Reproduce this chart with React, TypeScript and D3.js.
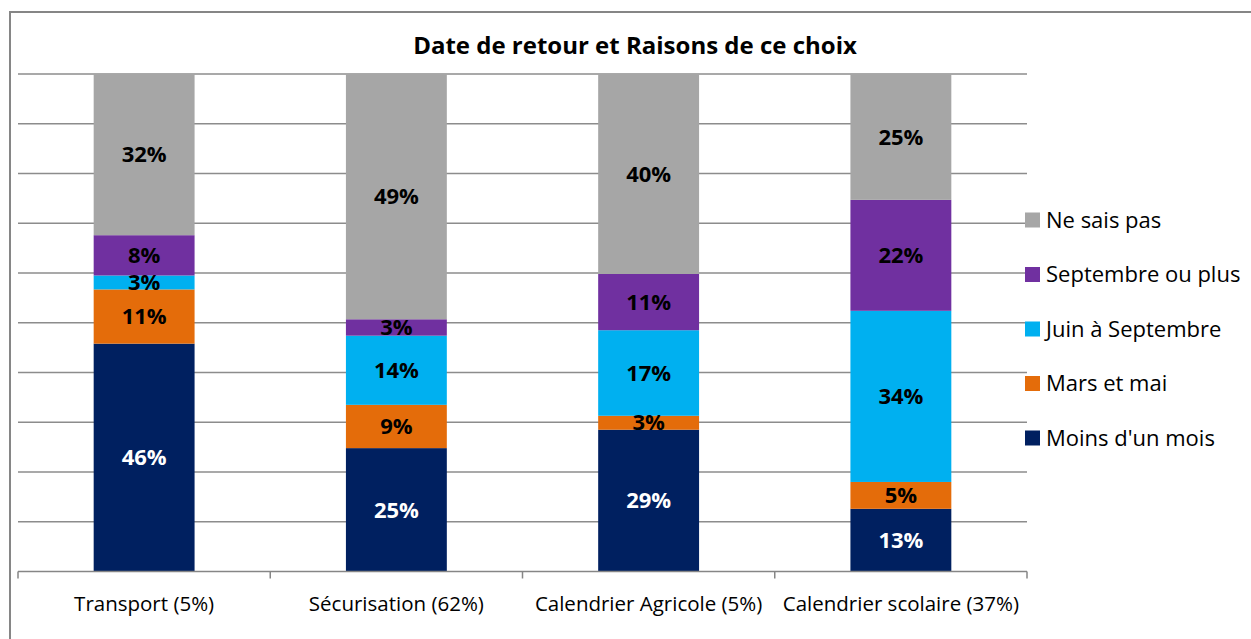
import React, { useEffect, useRef } from 'react'
import * as d3 from 'd3'

const categories = ['Transport (5%)', 'Sécurisation (62%)', 'Calendrier Agricole (5%)', 'Calendrier scolaire (37%)']
const seriesNames = ["Moins d'un mois", 'Mars et mai', 'Juin à Septembre', 'Septembre ou plus', 'Ne sais pas']
const seriesColors = ['#002060', '#E46C0A', '#00B0F0', '#7030A0', '#A6A6A6']
// one array per series, in category order
const moinsUnMois = [45.8, 24.8, 28.5, 12.6]
const marsMai = [10.9, 8.7, 2.8, 5.4]
const juinSept = [2.8, 13.9, 17.2, 34.4]
const septPlus = [8.1, 3.3, 11.3, 22.3]
const neSaisPas = [32.4, 49.3, 40.2, 25.3]
const yTicks = [10, 20, 30, 40, 50, 60, 70, 80, 90, 100]

const FONT = '"Open Sans", Lato, sans-serif'

const App = () => {
  const ref = useRef<SVGSVGElement>(null)
  const width = 1251
  const height = 639

  useEffect(() => {
    const svg = d3.select(ref.current)
    svg.selectAll('*').remove()

    const series = [moinsUnMois, marsMai, juinSept, septPlus, neSaisPas]
    const rows = categories.map((c, i) => {
      const r: any = { cat: c }
      seriesNames.forEach((s, j) => (r[s] = series[j][i]))
      return r
    })
    const stacked = d3.stack().keys(seriesNames)(rows)

    const left = 18, right = 1027, top = 74, bottom = 571.5
    const slots = d3.scaleBand().domain(categories).range([left, right]).padding(0)
    const x = d3.scaleBand().domain(categories).range([left, right]).paddingInner(0.6).paddingOuter(0.3)
    const y = d3.scaleLinear().domain([0, 100]).range([bottom, top])

    // outer frame (runs off the right / bottom edge)
    svg.append('rect')
      .attr('x', 10).attr('y', 12).attr('width', 1400).attr('height', 800)
      .attr('fill', 'white').attr('stroke', '#868686').attr('stroke-width', 2)

    svg.append('text')
      .attr('x', 635).attr('y', 54)
      .attr('text-anchor', 'middle')
      .style('font', `bold 24px ${FONT}`)
      .attr('fill', '#000')
      .text('Date de retour et Raisons de ce choix')

    svg.append('g')
      .selectAll('line')
      .data(yTicks)
      .join('line')
      .attr('x1', left).attr('x2', right)
      .attr('y1', d => y(d)).attr('y2', d => y(d))
      .attr('stroke', '#8c8c8c').attr('stroke-width', 1.5)

    const g = svg.append('g')
    g.selectAll('g')
      .data(stacked)
      .join('g')
      .attr('fill', (d, i) => seriesColors[i])
      .selectAll('rect')
      .data(d => d)
      .join('rect')
      .attr('x', d => x(d.data.cat as string)!)
      .attr('width', x.bandwidth())
      .attr('y', d => y(d[1]))
      .attr('height', d => y(d[0]) - y(d[1]))

    // x axis
    svg.append('line')
      .attr('x1', left).attr('x2', right).attr('y1', bottom).attr('y2', bottom)
      .attr('stroke', '#868686').attr('stroke-width', 1.5)
    const tickX = categories.map(c => slots(c)!).concat([right])
    svg.append('g').selectAll('line').data(tickX).join('line')
      .attr('x1', d => d).attr('x2', d => d).attr('y1', bottom).attr('y2', bottom + 7)
      .attr('stroke', '#868686').attr('stroke-width', 1.5)
    svg.append('g').selectAll('text').data(categories).join('text')
      .attr('x', d => slots(d)! + slots.bandwidth() / 2)
      .attr('y', 611)
      .attr('text-anchor', 'middle')
      .style('font', `20.5px ${FONT}`)
      .attr('fill', '#000')
      .text(d => d)

    // value labels
    const lab = svg.append('g')
      .attr('text-anchor', 'middle')
      .style('font', `bold 22px ${FONT}`)
    stacked.forEach((s, i) => {
      lab.selectAll(null).data(s).join('text')
        .attr('x', d => x(d.data.cat as string)! + x.bandwidth() / 2)
        .attr('y', d => (y(d[0]) + y(d[1])) / 2)
        .attr('dy', '0.35em')
        .attr('fill', i === 0 ? '#fff' : '#000')
        .text(d => Math.round(d[1] - d[0]) + '%')
    })

    // legend, top item = last series
    const legend = svg.append('g')
      .selectAll('g')
      .data(seriesNames.slice().reverse())
      .join('g')
      .attr('transform', (d, i) => `translate(1025,${220 + i * 54.5})`)
    legend.append('rect')
      .attr('x', 0).attr('y', -7.5).attr('width', 15).attr('height', 15)
      .attr('fill', d => seriesColors[seriesNames.indexOf(d)])
    legend.append('text')
      .attr('x', 21).attr('dy', '0.35em')
      .style('font', `22px ${FONT}`)
      .attr('fill', '#000')
      .text(d => d)

    return () => { svg.selectAll('*').remove() }
  }, [])

  return (
    <svg ref={ref} width={width} height={height} style={{ position: 'absolute', left: 0, top: 0, background: '#fff' }} />
  )
}

export default App
